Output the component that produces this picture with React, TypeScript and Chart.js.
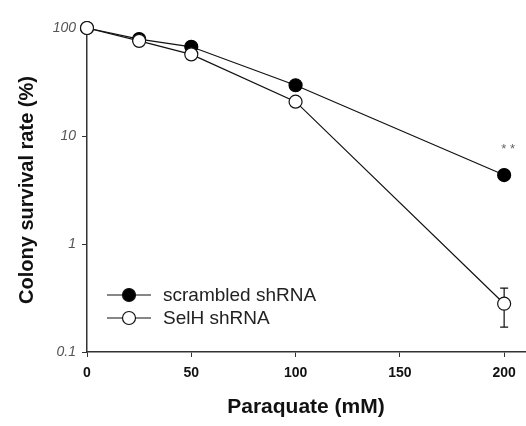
import React, { useEffect, useRef } from "react";
import { Chart, registerables } from "chart.js";

Chart.register(...registerables);

// Paraquate concentration (mM)
const doses = [0, 25, 50, 100, 200];
// Colony survival (%) per dose
const scrambledSurvival = [100, 79, 67, 29.5, 4.35];
const selHSurvival = [100, 76, 57, 20.8, 0.28];
// Standard deviations
const scrambledSD = [0, 0, 0, 0, 0];
const selHSD = [0, 0, 0, 2, 0.11];

const xTicks = [0, 50, 100, 150, 200];
const yTicks = [0.1, 1, 10, 100];

const seriesNames = ["scrambled shRNA", "SelH shRNA"];
const significance = "* *";

const FONT = "'Liberation Sans', Arial, sans-serif";

const errorBarPlugin = {
  id: "errorBars",
  beforeDatasetsDraw(chart: any) {
    const { ctx, scales } = chart;
    const x = scales.x;
    const y = scales.y;
    const groups = [
      { vals: scrambledSurvival, sd: scrambledSD },
      { vals: selHSurvival, sd: selHSD },
    ];
    ctx.save();
    ctx.strokeStyle = "#111";
    ctx.lineWidth = 1.2;
    groups.forEach((g) => {
      doses.forEach((d, i) => {
        const s = g.sd[i];
        if (!s) return;
        const px = x.getPixelForValue(d);
        const top = y.getPixelForValue(g.vals[i] + s);
        const bot = y.getPixelForValue(Math.max(g.vals[i] - s, 0.1));
        const cap = 4;
        ctx.beginPath();
        ctx.moveTo(px, top);
        ctx.lineTo(px, bot);
        ctx.moveTo(px - cap, top);
        ctx.lineTo(px + cap, top);
        ctx.moveTo(px - cap, bot);
        ctx.lineTo(px + cap, bot);
        ctx.stroke();
      });
    });
    ctx.restore();
  },
  afterDatasetsDraw(chart: any) {
    const { ctx, scales } = chart;
    const last = doses.length - 1;
    const px = scales.x.getPixelForValue(doses[last]);
    const py = scales.y.getPixelForValue(scrambledSurvival[last]);
    ctx.save();
    ctx.fillStyle = "#666";
    ctx.font = `13px ${FONT}`;
    ctx.textAlign = "center";
    ctx.textBaseline = "middle";
    ctx.fillText(significance, px + 4, py - 26);
    ctx.restore();
  },
};

const legendPlugin = {
  id: "customLegend",
  afterDraw(chart: any) {
    const { ctx, chartArea } = chart;
    const x0 = chartArea.left + 20;
    const rows = [chartArea.top + 267, chartArea.top + 290];
    const fills = ["#000", "#fff"];
    ctx.save();
    rows.forEach((ry, i) => {
      ctx.strokeStyle = "#111";
      ctx.lineWidth = 1.2;
      ctx.beginPath();
      ctx.moveTo(x0, ry);
      ctx.lineTo(x0 + 44, ry);
      ctx.stroke();
      ctx.beginPath();
      ctx.arc(x0 + 22, ry, 6.5, 0, Math.PI * 2);
      ctx.fillStyle = fills[i];
      ctx.fill();
      ctx.stroke();
      ctx.fillStyle = "#222";
      ctx.font = `19px ${FONT}`;
      ctx.textAlign = "left";
      ctx.textBaseline = "middle";
      ctx.fillText(seriesNames[i], x0 + 56, ry + 1);
    });
    ctx.restore();
  },
};

export default function App() {
  const ref = useRef<HTMLCanvasElement | null>(null);

  useEffect(() => {
    document.body.style.margin = "0";
    const canvas = ref.current;
    if (!canvas) return;
    const chart = new Chart(canvas, {
      type: "line",
      data: {
        datasets: [
          {
            label: seriesNames[1],
            data: doses.map((d, i) => ({ x: d, y: selHSurvival[i] })),
            borderColor: "#111",
            borderWidth: 1.2,
            pointRadius: 6.5,
            pointBackgroundColor: "#fff",
            pointBorderColor: "#111",
            pointBorderWidth: 1.2,
            fill: false,
            tension: 0,
          },
          {
            label: seriesNames[0],
            data: doses.map((d, i) => ({ x: d, y: scrambledSurvival[i] })),
            borderColor: "#111",
            borderWidth: 1.2,
            pointRadius: 6.5,
            pointBackgroundColor: "#000",
            pointBorderColor: "#000",
            pointBorderWidth: 1.2,
            fill: false,
            tension: 0,
          },
        ],
      },
      options: {
        animation: false,
        responsive: false,
        clip: false as any,
        layout: {
          autoPadding: false,
          padding: { top: 28, right: 1, left: 0, bottom: 0 },
        },
        plugins: {
          legend: { display: false },
          tooltip: { enabled: false },
        },
        scales: {
          x: {
            type: "linear",
            min: 0,
            max: 210,
            afterBuildTicks: (s: any) => {
              s.ticks = xTicks.map((v) => ({ value: v }));
            },
            afterFit: (s: any) => {
              s.height = 74;
              s.paddingLeft = 0;
              s.paddingRight = 0;
            },
            grid: {
              drawOnChartArea: false,
              drawTicks: true,
              tickLength: 5,
              color: "#333",
            },
            border: { color: "#333", width: 1.5 },
            ticks: {
              color: "#111",
              font: { family: FONT, size: 14, weight: "bold" },
              padding: 8,
              maxRotation: 0,
            },
            title: {
              display: true,
              text: "Paraquate (mM)",
              color: "#111",
              font: { family: FONT, size: 21, weight: "bold" },
              padding: { top: 0, bottom: 6 },
            },
          },
          y: {
            type: "logarithmic",
            min: 0.1,
            max: 100,
            afterBuildTicks: (s: any) => {
              s.ticks = yTicks.map((v) => ({ value: v }));
            },
            afterFit: (s: any) => {
              s.width = 87;
              s.paddingTop = 0;
              s.paddingBottom = 0;
            },
            grid: {
              drawOnChartArea: false,
              drawTicks: true,
              tickLength: 5,
              color: "#333",
            },
            border: { color: "#333", width: 1.5 },
            ticks: {
              color: "#555",
              font: { family: FONT, size: 14, style: "italic" },
              padding: 6,
              callback: (v: any) => String(v),
            },
            title: {
              display: true,
              text: "Colony survival rate (%)",
              color: "#111",
              font: { family: FONT, size: 20, weight: "bold" },
              padding: { top: 15, bottom: 0 },
            },
          },
        },
      },
      plugins: [errorBarPlugin, legendPlugin],
    });
    return () => chart.destroy();
  }, []);

  return <canvas ref={ref} width={526} height={426} style={{ display: "block" }} />;
}
